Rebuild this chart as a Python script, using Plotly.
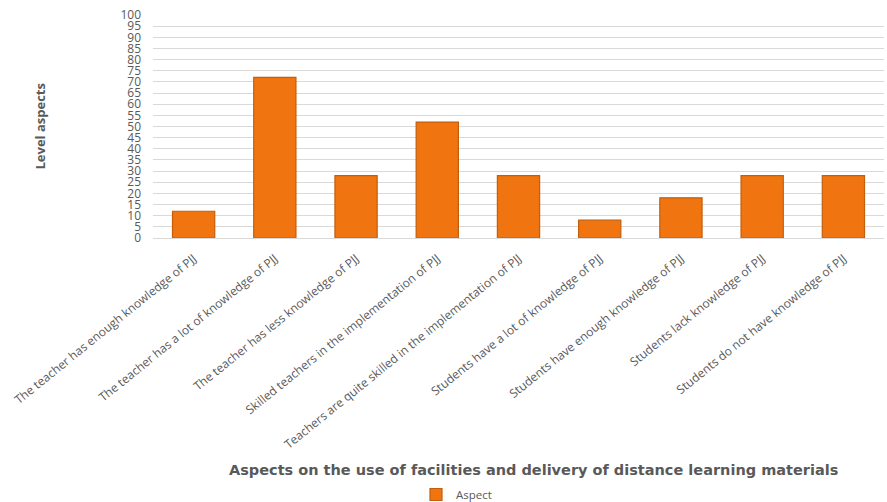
import plotly.graph_objects as go

categories = [
    "The teacher has enough knowledge of PJJ",
    "The teacher has a lot of knowledge of PJJ",
    "The teacher has less knowledge of PJJ",
    "Skilled teachers in the implementation of PJJ",
    "Teachers are quite skilled in the implementation of PJJ",
    "Students have a lot of knowledge of PJJ",
    "Students have enough knowledge of PJJ",
    "Students lack knowledge of PJJ",
    "Students do not have knowledge of PJJ",
]
aspect_values = [12, 72, 28, 52, 28, 8, 18, 28, 28]
y_ticks = list(range(0, 101, 5))

FONT = "'Open Sans', Lato, sans-serif"
WIDE = "'DejaVu Sans', 'Open Sans', sans-serif"
GREY = "#595959"

fig = go.Figure()
fig.add_trace(go.Bar(
    x=categories,
    y=aspect_values,
    name="Aspect",
    width=0.52,
    marker=dict(color="#F0740F", line=dict(color="#C35E0B", width=1.2)),
))

W, H = 887, 502
ml, mr, mt, mb = 153, 3, 15, 264
pw, ph = W - ml - mr, H - mt - mb
bottom = mt + ph

fig.update_layout(
    width=W, height=H,
    margin=dict(l=ml, r=mr, t=mt, b=mb, autoexpand=False),
    paper_bgcolor="white", plot_bgcolor="white",
    font=dict(family=FONT, color=GREY),
    showlegend=True,
    legend=dict(
        orientation="h",
        x=(416 - ml) / pw, xanchor="left",
        y=-(480 - bottom) / ph, yanchor="top",
        font=dict(size=11.5, color=GREY, family=FONT),
    ),
    xaxis=dict(
        automargin=False,
        tickangle=-39,
        tickfont=dict(size=12, color=GREY),
        showgrid=False,
        showline=True, linecolor="#D9D9D9",
        ticks="",
        ticklabelstandoff=8,
    ),
    yaxis=dict(
        automargin=False,
        range=[0, 100],
        tickvals=y_ticks,
        tickfont=dict(size=12, color=GREY),
        showgrid=True, gridcolor="#D9D9D9", gridwidth=1,
        zeroline=False,
        ticklabelstandoff=11,
    ),
    annotations=[
        dict(
            text="<b>Aspects on the use of facilities and delivery of distance learning materials</b>",
            xref="paper", yref="paper",
            x=(533 - ml) / pw, y=-(470 - bottom) / ph,
            xanchor="center", yanchor="middle",
            showarrow=False,
            font=dict(size=14.5, color=GREY, family=WIDE),
        ),
        dict(
            text="<b>Level aspects</b>",
            xref="paper", yref="paper",
            x=(39 - ml) / pw, y=(bottom - 126.5) / ph,
            xanchor="center", yanchor="middle",
            textangle=-90,
            showarrow=False,
            font=dict(size=13, color=GREY, family=FONT),
        ),
    ],
)

fig.write_html("out.html")
